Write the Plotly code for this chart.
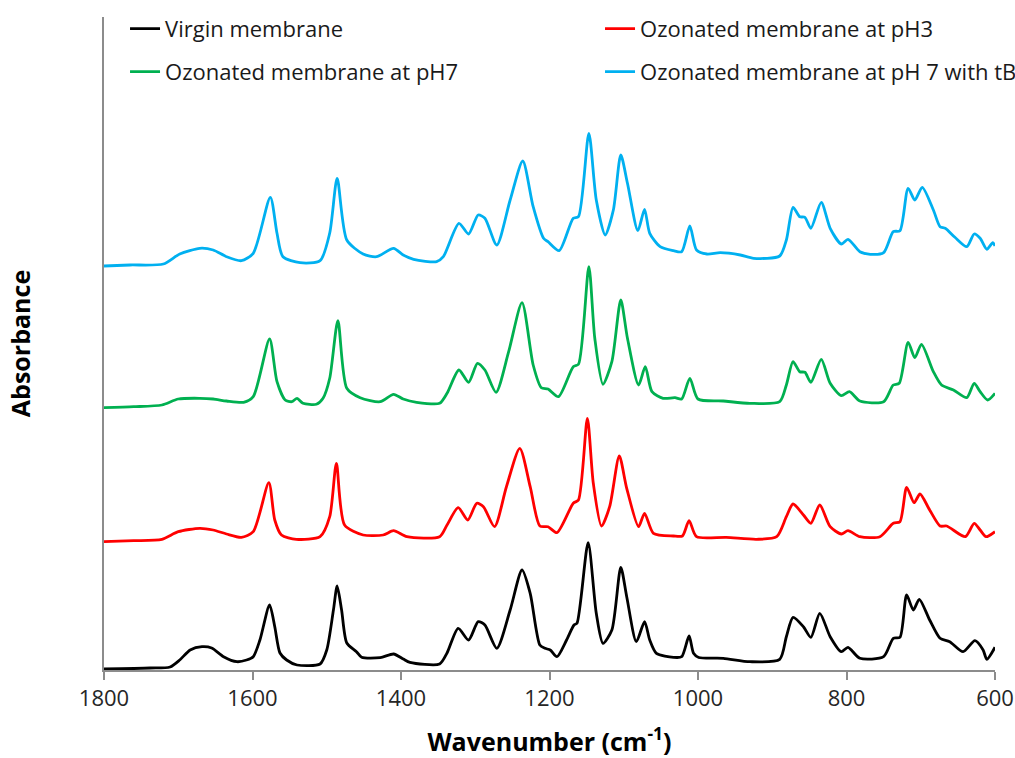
import plotly.graph_objects as go

# FTIR spectra (offset for display). Wavenumber in cm-1, absorbance in a.u.
virgin_wn = [1800, 1738, 1711, 1698, 1684, 1668, 1655, 1639, 1621, 1608, 1599, 1590, 1577, 1570, 1563,
             1554, 1540, 1509, 1500, 1491, 1486, 1480, 1473, 1460, 1453, 1428, 1410, 1397, 1388, 1348,
             1338, 1323, 1309, 1296, 1287, 1271, 1253, 1237, 1226, 1213, 1206, 1199, 1190, 1177, 1167,
             1163, 1148, 1137, 1128, 1116, 1104, 1096, 1083, 1072, 1065, 1056, 1033, 1022, 1012, 1006,
             999, 966, 930, 890, 881, 872, 858, 848, 836, 822, 807, 798, 782, 750, 737, 728, 719, 710,
             702, 688, 674, 661, 643, 627, 616, 611, 600]
virgin_abs = [0.01, 0.02, 0.03, 0.10, 0.20, 0.233, 0.22, 0.133, 0.083, 0.10, 0.133, 0.30, 0.65, 0.433, 0.17,
              0.10, 0.05, 0.06, 0.20, 0.60, 0.84, 0.60, 0.27, 0.183, 0.127, 0.123, 0.16, 0.11, 0.077, 0.06,
              0.17, 0.417, 0.30, 0.483, 0.45, 0.217, 0.60, 1.00, 0.767, 0.25, 0.217, 0.20, 0.133, 0.30, 0.45,
              0.467, 1.273, 0.567, 0.267, 0.40, 1.027, 0.733, 0.283, 0.483, 0.30, 0.167, 0.127, 0.133, 0.34, 0.167,
              0.125, 0.117, 0.083, 0.107, 0.333, 0.527, 0.433, 0.327, 0.567, 0.333, 0.183, 0.227, 0.117, 0.133, 0.317, 0.327, 0.75, 0.60,
              0.707, 0.50, 0.317, 0.283, 0.183, 0.293, 0.20, 0.107, 0.227]

ph3_wn = [1800, 1760, 1722, 1700, 1671, 1653, 1635, 1615, 1599, 1578, 1570, 1561, 1541, 1509, 1496,
          1487, 1476, 1451, 1424, 1410, 1392, 1348, 1338, 1323, 1310, 1298, 1289, 1274, 1258, 1240,
          1226, 1213, 1202, 1190, 1168, 1161, 1149, 1141, 1130, 1119, 1106, 1096, 1080, 1072, 1060,
          1033, 1021, 1012, 1002, 962, 921, 894, 881, 872, 858, 848, 836, 822, 807, 798, 782, 755,
          737, 728, 719, 709, 701, 688, 674, 665, 640, 628, 620, 612, 600]
ph3_abs = [1.283, 1.293, 1.307, 1.383, 1.417, 1.40, 1.36, 1.327, 1.383, 1.873, 1.50, 1.35, 1.307, 1.333, 1.533,
           2.067, 1.45, 1.35, 1.35, 1.393, 1.333, 1.333, 1.45, 1.623, 1.50, 1.667, 1.633, 1.433, 1.833, 2.217,
           1.833, 1.44, 1.433, 1.373, 1.667, 1.70, 2.517, 1.867, 1.44, 1.633, 2.14, 1.817, 1.433, 1.567, 1.367,
           1.34, 1.34, 1.493, 1.333, 1.327, 1.307, 1.333, 1.533, 1.66, 1.55, 1.467, 1.65, 1.433, 1.36, 1.393, 1.333, 1.333,
           1.467, 1.483, 1.827, 1.673, 1.76, 1.60, 1.44, 1.44, 1.333, 1.467, 1.40, 1.333, 1.383]

ph7_wn = [1800, 1760, 1722, 1700, 1671, 1653, 1635, 1612, 1599, 1577, 1567, 1556, 1547, 1540, 1532,
          1514, 1505, 1496, 1485, 1473, 1455, 1428, 1410, 1397, 1379, 1348, 1338, 1322, 1309, 1297,
          1287, 1272, 1255, 1237, 1222, 1211, 1202, 1188, 1168, 1161, 1147, 1139, 1128, 1116, 1104,
          1095, 1080, 1071, 1062, 1047, 1031, 1022, 1011, 1000, 966, 930, 890, 881, 872, 863, 856,
          848, 834, 822, 807, 796, 782, 750, 737, 729, 717, 708, 699, 683, 672, 656, 638, 628, 620,
          610, 600]
ph7_abs = [2.623, 2.633, 2.65, 2.71, 2.717, 2.71, 2.69, 2.677, 2.733, 3.31, 2.883, 2.70, 2.683, 2.717, 2.667,
           2.657, 2.717, 2.917, 3.493, 2.817, 2.723, 2.683, 2.757, 2.71, 2.677, 2.667, 2.767, 3.00, 2.877, 3.067,
           3.00, 2.777, 3.183, 3.673, 3.05, 2.823, 2.81, 2.733, 3.033, 3.057, 4.033, 3.317, 2.857, 3.083, 3.70,
           3.317, 2.85, 3.033, 2.783, 2.717, 2.723, 2.71, 2.917, 2.71, 2.69, 2.667, 2.683, 2.85, 3.083, 2.983, 2.977,
           2.877, 3.107, 2.867, 2.743, 2.783, 2.69, 2.683, 2.85, 2.867, 3.277, 3.123, 3.257, 2.983, 2.85, 2.80, 2.723, 2.867, 2.783,
           2.70, 2.767]

tba_wn = [1800, 1765, 1720, 1698, 1671, 1653, 1635, 1615, 1599, 1576, 1567, 1559, 1536, 1509, 1496,
          1486, 1473, 1451, 1433, 1410, 1397, 1383, 1352, 1343, 1322, 1309, 1296, 1287, 1271, 1253,
          1236, 1222, 1208, 1202, 1187, 1168, 1161, 1147, 1137, 1125, 1114, 1104, 1095, 1081, 1072,
          1065, 1051, 1033, 1022, 1011, 1002, 988, 970, 943, 925, 890, 881, 872, 863, 856, 848, 834,
          822, 807, 798, 782, 768, 750, 737, 728, 717, 708, 698, 683, 674, 667, 654, 638, 628, 620,
          611, 603, 600]
tba_abs = [4.04, 4.05, 4.06, 4.16, 4.217, 4.20, 4.133, 4.093, 4.167, 4.727, 4.367, 4.133, 4.073, 4.093, 4.37,
           4.917, 4.30, 4.16, 4.133, 4.217, 4.15, 4.107, 4.083, 4.133, 4.467, 4.36, 4.55, 4.517, 4.25, 4.70,
           5.09, 4.633, 4.317, 4.283, 4.193, 4.517, 4.533, 5.367, 4.70, 4.35, 4.60, 5.15, 4.867, 4.393, 4.607,
           4.367, 4.233, 4.193, 4.183, 4.44, 4.20, 4.16, 4.173, 4.15, 4.117, 4.14, 4.30, 4.627, 4.533, 4.527, 4.417, 4.677,
           4.417, 4.26, 4.307, 4.183, 4.157, 4.173, 4.383, 4.393, 4.817, 4.70, 4.827, 4.60, 4.433, 4.417, 4.327, 4.233, 4.36, 4.317,
           4.207, 4.273, 4.24]

series = [
    ("Virgin membrane", virgin_wn, virgin_abs, "#000000", "legend"),
    ("Ozonated membrane at pH3", ph3_wn, ph3_abs, "#FF0000", "legend2"),
    ("Ozonated membrane at pH7", ph7_wn, ph7_abs, "#00B050", "legend3"),
    ("Ozonated membrane at pH 7 with tBA", tba_wn, tba_abs, "#00B0F0", "legend4"),
]

x_ticks = [1800, 1600, 1400, 1200, 1000, 800, 600]

FONT = "Open Sans"

fig = go.Figure()
for name, wn, ab, color, leg in series:
    fig.add_trace(go.Scatter(
        x=wn, y=ab, name=name, mode="lines", legend=leg, showlegend=True,
        line=dict(color=color, width=2.8, shape="spline", smoothing=0.7),
    ))

legend_style = dict(
    bgcolor="rgba(0,0,0,0)", borderwidth=0,
    font=dict(family=FONT, size=22, color="#1a1a1a"),
    xanchor="left", yanchor="middle", orientation="v",
)
fig.update_layout(
    width=1015, height=758,
    margin=dict(l=104, r=20, t=17, b=88, autoexpand=False),
    showlegend=True,
    paper_bgcolor="white", plot_bgcolor="white",
    font=dict(family=FONT, color="#262626"),
    legend=dict(x=0.0236, y=0.982, **legend_style),
    legend2=dict(x=0.5567, y=0.982, **legend_style),
    legend3=dict(x=0.0236, y=0.916, **legend_style),
    legend4=dict(x=0.5567, y=0.916, **legend_style),
    xaxis=dict(
        range=[1800, 600], tickvals=x_ticks, ticktext=[str(v) for v in x_ticks],
        showgrid=False, zeroline=False,
        showline=True, linecolor="#8c8c8c", linewidth=1.5,
        ticks="outside", ticklen=8, tickcolor="#8c8c8c", tickwidth=1.5,
        tickfont=dict(family=FONT, size=22, color="#262626"),
        title=dict(text="<b>Wavenumber (cm<sup>-1</sup>)</b>",
                   font=dict(family=FONT, size=25, color="#000000"), standoff=24),
    ),
    yaxis=dict(
        range=[0, 6.53], showticklabels=False, ticks="",
        showgrid=False, zeroline=False,
        showline=True, linecolor="#8c8c8c", linewidth=1.5,
        title=dict(text="<b>Absorbance</b>",
                   font=dict(family=FONT, size=25, color="#000000"), standoff=65),
    ),
)

fig.write_html("out.html")
